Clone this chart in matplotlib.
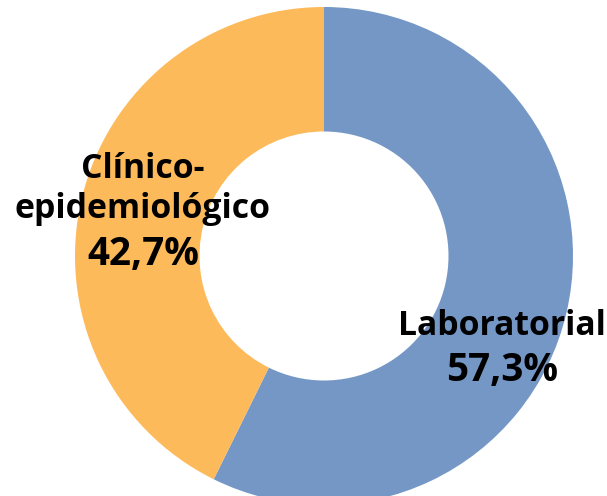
import matplotlib
matplotlib.use('Agg')
from matplotlib import pyplot as plt

# data
categories = ['Laboratorial', 'Clínico-\nepidemiológico']
shares = [57.3, 42.7]
colors = ['#7497C5', '#FDBA5A']

W, H = 607, 496
CX, CY, R = 324, 256, 249

fig = plt.figure(figsize=(W / 100, H / 100), dpi=100)
ax = fig.add_axes([(CX - R) / W, (H - CY - R) / H, 2 * R / W, 2 * R / H])
ax.pie(shares, colors=colors, startangle=90, counterclock=False,
       radius=1, wedgeprops=dict(width=0.5, linewidth=0))
ax.set_xlim(-1, 1)
ax.set_ylim(-1, 1)
ax.set_aspect('equal')
ax.axis('off')

# label positions in pixels (x, y of name, y of percentage)
label_pos = [(502, 326, 370), (143, 189, 254)]
for name, val, (px, py, ppy) in zip(categories, shares, label_pos):
    fig.text(px / W, 1 - py / H, name, ha='center', va='center',
             fontsize=24.3, fontweight='bold', family='Open Sans', linespacing=1.25)
    fig.text(px / W, 1 - ppy / H, f'{val:.1f}%'.replace('.', ','),
             ha='center', va='center', fontsize=27.8, fontweight='bold', family='Open Sans')

plt.savefig('out.png', dpi=100)
